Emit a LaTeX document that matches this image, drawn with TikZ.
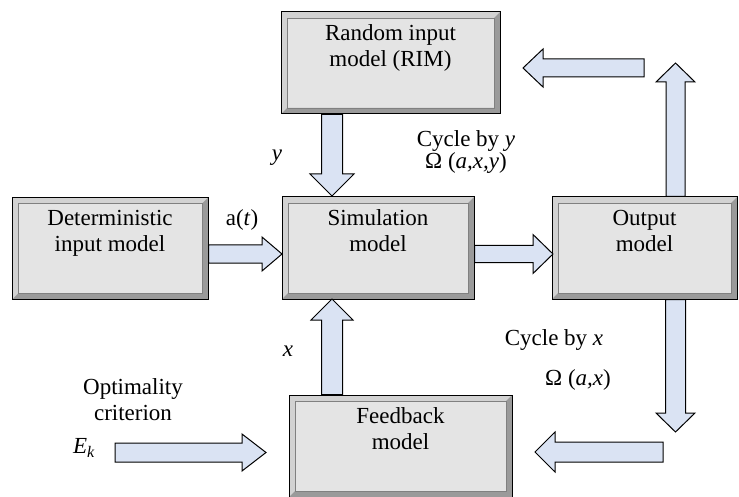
\documentclass[tikz,border=0pt]{standalone}
\usepackage{fontspec}
\setmainfont{Liberation Serif}
\usetikzlibrary{calc}

\definecolor{arrowblue}{HTML}{DAE3F3}
\definecolor{facegray}{HTML}{E4E4E4}
\definecolor{bevellight}{HTML}{D2D2D2}
\definecolor{beveldark}{HTML}{9A9A9A}

\tikzset{
  model/.style={draw=black, line width=1pt, fill=facegray,
    minimum width=#1, minimum height=102pt, inner sep=0pt,
    align=center, text depth=35pt,
    path picture={
      \fill[bevellight] (path picture bounding box.north west) -- (path picture bounding box.north east)
        -- ([shift={(-6pt,-6pt)}]path picture bounding box.north east) -- ([shift={(6pt,-6pt)}]path picture bounding box.north west)
        -- ([shift={(6pt,6pt)}]path picture bounding box.south west) -- (path picture bounding box.south west) -- cycle;
      \fill[beveldark] (path picture bounding box.south west) -- (path picture bounding box.south east)
        -- (path picture bounding box.north east) -- ([shift={(-6pt,-6pt)}]path picture bounding box.north east)
        -- ([shift={(-6pt,6pt)}]path picture bounding box.south east) -- ([shift={(6pt,6pt)}]path picture bounding box.south west) -- cycle;
      \draw[gray, line width=0.5pt] ([shift={(6pt,6pt)}]path picture bounding box.south west)
        rectangle ([shift={(-6pt,-6pt)}]path picture bounding box.north east);
    }},
  blockarrow/.style={draw=black, line width=1pt, fill=arrowblue, line join=miter},
  lab/.style={inner sep=0pt},
}

% start, tip, shaft half width, head half width, head length
\newcommand{\fatarrow}[5]{%
  \coordinate (fa) at ($(#2)!#5!(#1)$);
  \draw[blockarrow] ($(#1)!#3!90:(#2)$) -- ($(fa)!#3!90:(#2)$) -- ($(fa)!#4!90:(#2)$) -- (#2)
    -- ($(fa)!#4!-90:(#2)$) -- ($(fa)!#3!-90:(#2)$) -- ($(#1)!#3!-90:(#2)$) -- cycle;}

\begin{document}
\begin{tikzpicture}[x=1pt, y=-1pt, every node/.style={font=\fontsize{23}{26}\selectfont}]
  \useasboundingbox (0,0) rectangle (739,497);

  % boxes
  \node[model=219pt] (rim) at (390.5,63) {Random input\\model (RIM)};
  \node[model=196pt] (det) at (110,248.5) {Deterministic\\input model};
  \node[model=192pt] (sim) at (378,248) {Simulation\\model};
  \node[model=185pt] (out) at (644.5,248) {Output\\model};
  \node[model=223pt] (fb) at (400.5,446) {Feedback\\model};

  % arrow ends
  \coordinate (colL) at (332,0);
  \coordinate (colR) at (675.5,0);
  \coordinate (ytip) at (332,196);
  \coordinate (atip) at (282,254);
  \coordinate (otip) at (553,254);
  \coordinate (xtip) at (332,299);
  \coordinate (uptip) at (675.5,63);
  \coordinate (rtail) at (644,68);
  \coordinate (rtip) at (523,68);
  \coordinate (dtip) at (675.5,432);
  \coordinate (btail) at (663,452);
  \coordinate (btip) at (535,452);
  \coordinate (etail) at (115,452.5);
  \coordinate (etip) at (266,452.5);

  \fatarrow{rim.south -| colL}{ytip}{10.5pt}{22pt}{22pt}
  \fatarrow{det.east |- atip}{atip}{9pt}{17pt}{20pt}
  \fatarrow{sim.east |- otip}{otip}{8.5pt}{19.5pt}{20pt}
  \fatarrow{fb.north -| colL}{xtip}{10.5pt}{21pt}{21pt}
  \fatarrow{out.north -| colR}{uptip}{9.5pt}{19.5pt}{19pt}
  \fatarrow{rtail}{rtip}{9pt}{19pt}{20pt}
  \fatarrow{out.south -| colR}{dtip}{10pt}{19.5pt}{19pt}
  \fatarrow{btail}{btip}{10pt}{20pt}{20pt}
  \fatarrow{etail}{etip}{9.5pt}{18.5pt}{24pt}

  % labels
  \node[lab] (ylab) at (277,158) {\textit{y}};
  \node[lab] (alab) at (242,220) {a(\textit{t})};
  \node[lab] (cycy) at (466,141) {Cycle by \textit{y}};
  \node[lab] (omy) at (466,163) {Ω (\textit{a,x,y})};
  \node[lab] (xlab) at (288,351) {\textit{x}};
  \node[lab] (cycx) at (554,340) {Cycle by \textit{x}};
  \node[lab] (omx) at (578,380) {Ω (\textit{a,x})};
  \node[lab, align=center] (crit) at (133,399.5) {Optimality\\criterion};
  \node[lab] (ek) at (84,448) {\textit{E}\textsubscript{\textit{k}}};
\end{tikzpicture}
\end{document}
